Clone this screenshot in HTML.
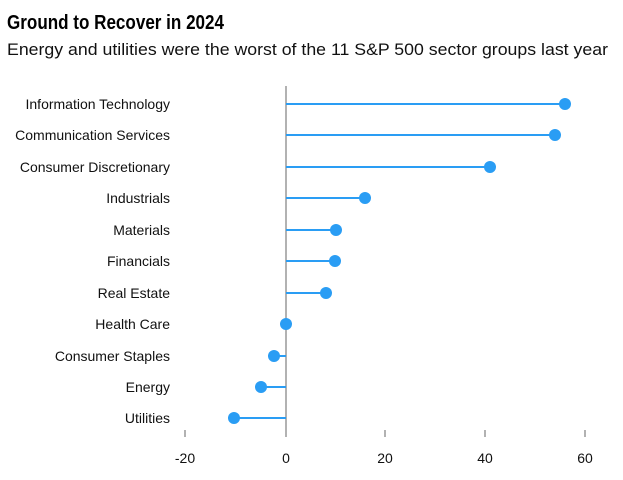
<!DOCTYPE html>
<html><head><style>body{margin:0;background:#fff}</style></head><body>
<svg width="623" height="475" xmlns="http://www.w3.org/2000/svg" font-family="Liberation Sans, sans-serif">
<text x="7" y="29" font-size="20" font-weight="bold" fill="#000" textLength="217" lengthAdjust="spacingAndGlyphs">Ground to Recover in 2024</text>
<text x="7" y="55" font-size="17" fill="#111" textLength="601" lengthAdjust="spacingAndGlyphs">Energy and utilities were the worst of the 11 S&amp;P 500 sector groups last year</text>
<line x1="286" y1="86" x2="286" y2="437" stroke="#999" stroke-width="1.5"/>
<line x1="185" y1="430" x2="185" y2="437" stroke="#999" stroke-width="1.5"/>
<line x1="385" y1="430" x2="385" y2="437" stroke="#999" stroke-width="1.5"/>
<line x1="485" y1="430" x2="485" y2="437" stroke="#999" stroke-width="1.5"/>
<line x1="585" y1="430" x2="585" y2="437" stroke="#999" stroke-width="1.5"/>
<g font-size="14" fill="#111" text-anchor="middle">
<text x="185" y="463">-20</text><text x="286" y="463">0</text><text x="385" y="463">20</text><text x="485" y="463">40</text><text x="585" y="463">60</text>
</g>
<g font-size="14" fill="#111" text-anchor="end">
<text x="170" y="109">Information Technology</text>
<text x="170" y="140">Communication Services</text>
<text x="170" y="172">Consumer Discretionary</text>
<text x="170" y="203">Industrials</text>
<text x="170" y="235">Materials</text>
<text x="170" y="266">Financials</text>
<text x="170" y="298">Real Estate</text>
<text x="170" y="329">Health Care</text>
<text x="170" y="361">Consumer Staples</text>
<text x="170" y="392">Energy</text>
<text x="170" y="423">Utilities</text>
</g>
<g stroke="#2a9df4" stroke-width="2" fill="#2a9df4">
<line x1="286" y1="104" x2="565" y2="104"/><circle cx="565" cy="104" r="6" stroke="none"/>
<line x1="286" y1="135" x2="555" y2="135"/><circle cx="555" cy="135" r="6" stroke="none"/>
<line x1="286" y1="167" x2="490" y2="167"/><circle cx="490" cy="167" r="6" stroke="none"/>
<line x1="286" y1="198" x2="365" y2="198"/><circle cx="365" cy="198" r="6" stroke="none"/>
<line x1="286" y1="230" x2="336" y2="230"/><circle cx="336" cy="230" r="6" stroke="none"/>
<line x1="286" y1="261" x2="335" y2="261"/><circle cx="335" cy="261" r="6" stroke="none"/>
<line x1="286" y1="293" x2="326" y2="293"/><circle cx="326" cy="293" r="6" stroke="none"/>
<circle cx="286" cy="324" r="6" stroke="none"/>
<line x1="286" y1="356" x2="274" y2="356"/><circle cx="274" cy="356" r="6" stroke="none"/>
<line x1="286" y1="387" x2="261" y2="387"/><circle cx="261" cy="387" r="6" stroke="none"/>
<line x1="286" y1="418" x2="234" y2="418"/><circle cx="234" cy="418" r="6" stroke="none"/>
</g>
</svg>
</body></html>
